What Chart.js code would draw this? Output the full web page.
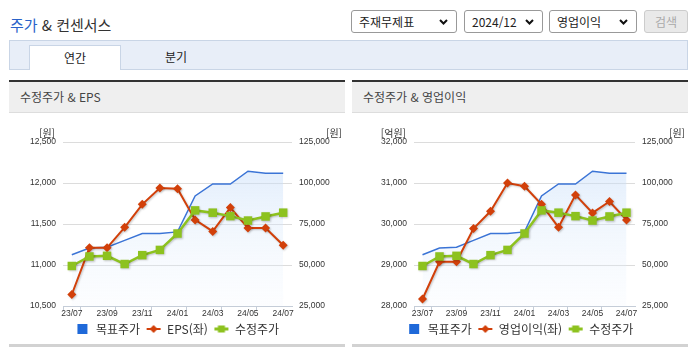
<!DOCTYPE html>
<html lang="ko">
<head>
<meta charset="utf-8">
<script src="https://cdn.jsdelivr.net/npm/chart.js@4.4.1/dist/chart.umd.min.js"></script>
<style>
  body { margin: 0; width: 695px; height: 349px; overflow: hidden; background: #fff;
         font-family: "Noto Sans CJK KR", "Noto Sans", sans-serif; color: #333; position: relative; }
  .abs { position: absolute; }
  .title { left: 10px; top: 15px; font-size: 15px; line-height: 20px; color: #333; }
  .title b { font-weight: normal; color: #2a62c9; }
  .sel { top: 10px; height: 21px; border: 1px solid #999; border-radius: 3px; font-size: 12px;
         line-height: 21px; padding-left: 7px; box-sizing: content-box; background: #fff; color: #222; }
  .sel svg { position: absolute; right: 8px; top: 8px; }
  .btn { left: 644px; top: 10px; width: 42px; height: 21px; border: 1px solid #ccc; border-radius: 3px;
         background: #e9e9e9; color: #aaa; font-size: 12px; line-height: 21px; text-align: center; }
  .tabbar { left: 9px; top: 40px; width: 677px; height: 28px; background: #e8eef8; border: 1px solid #c9d5e6; }
  .tab { top: 45px; left: 29px; width: 90px; height: 24px; background: #fff; border: 1px solid #c9d5e6;
         border-bottom: none; font-size: 12px; line-height: 24px; text-align: center; color: #222; }
  .tab2 { top: 45px; left: 150px; width: 52px; font-size: 12px; line-height: 24px; text-align: center; color: #222; }
  .panel { top: 80px; width: 336px; height: 262px; border-top: 2px solid #333; border-bottom: 3px solid #d2d2d2; }
  .phead { height: 30px; background: #efefef; border-bottom: 1px solid #ddd; font-size: 12px;
           line-height: 30px; padding-left: 11px; color: #444; }
  .box { top: 113px; width: 336px; height: 234px; }
</style>
</head>
<body>
<div class="abs title"><b>주가</b> &amp; 컨센서스</div>

<div class="abs sel" style="left:351px;width:97px">주재무제표<svg width="9" height="6"><path d="M1 1 L4.5 4.5 L8 1" stroke="#111" stroke-width="2" fill="none"/></svg></div>
<div class="abs sel" style="left:464px;width:70px">2024/12<svg width="9" height="6"><path d="M1 1 L4.5 4.5 L8 1" stroke="#111" stroke-width="2" fill="none"/></svg></div>
<div class="abs sel" style="left:549px;width:79px">영업이익<svg width="9" height="6"><path d="M1 1 L4.5 4.5 L8 1" stroke="#111" stroke-width="2" fill="none"/></svg></div>
<div class="abs btn">검색</div>

<div class="abs tabbar"></div>
<div class="abs tab">연간</div>
<div class="abs tab2">분기</div>

<div class="abs panel" style="left:9px"><div class="phead">수정주가 &amp; EPS</div></div>
<div class="abs panel" style="left:352px"><div class="phead">수정주가 &amp; 영업이익</div></div>

<div class="abs box" style="left:9px"><canvas id="chartEps"></canvas></div>
<div class="abs box" style="left:352px"><canvas id="chartOp"></canvas></div>

<script>
// 월별 데이터 (23/07 ~ 24/07)
const months = ['23/07', '23/08', '23/09', '23/10', '23/11', '23/12', '24/01',
                '24/02', '24/03', '24/04', '24/05', '24/06', '24/07'];
const targetPrice = [56250, 60400, 60800, 65000, 69200, 69200, 70200,
                     92100, 99400, 99400, 107200, 106000, 106000];
const adjPrice = [49400, 55200, 55600, 50600, 56000, 59200, 69200,
                  83300, 81900, 79800, 77100, 79600, 81900];
const eps = [10640, 11210, 11210, 11460, 11740, 11940, 11930,
             11550, 11410, 11700, 11450, 11450, 11240];
const opProfit = [28170, 29080, 29080, 29890, 30310, 31000, 30920,
                  30480, 29920, 30710, 30270, 30550, 30100];

const BLUE = '#3b74d6';
const RED = '#d2400a';
const GREEN = '#8dc21f';

Chart.defaults.font.family = '"Liberation Sans", Arial, sans-serif';
Chart.defaults.font.size = 8.5;
Chart.defaults.color = '#333';

// 범례 아이콘
function legendMark(kind, color) {
    const c = document.createElement('canvas');
    c.width = 16; c.height = 12;
    const g = c.getContext('2d');
    g.fillStyle = color;
    g.strokeStyle = color;
    if (kind === 'box') {
        g.fillRect(3, 1, 10, 10);
    } else {
        g.lineWidth = kind === 'square' ? 3 : 2;
        g.beginPath(); g.moveTo(1, 6); g.lineTo(15, 6); g.stroke();
        if (kind === 'diamond') {
            g.beginPath(); g.moveTo(8, 2); g.lineTo(12, 6); g.lineTo(8, 10); g.lineTo(4, 6); g.closePath(); g.fill();
        } else {
            g.fillRect(4.5, 2.5, 7, 7);
        }
    }
    return c;
}
const marks = [legendMark('box', '#1f69d9'), legendMark('diamond', RED), legendMark('square', GREEN)];

// 축 단위 표시 [원], [억원]
const unitTitles = {
    id: 'unitTitles',
    afterDraw(chart, args, opts) {
        const { ctx, chartArea } = chart;
        ctx.save();
        ctx.font = '10px "Noto Sans CJK KR"';
        ctx.fillStyle = '#333';
        ctx.textAlign = 'right';
        ctx.textBaseline = 'middle';
        ctx.fillText(opts.left, chartArea.left - 8, chartArea.top - 9);
        ctx.fillText(opts.right, chart.width - 3, chartArea.top - 9);
        ctx.restore();
    }
};

// 선 그림자
const lineShadow = {
    id: 'lineShadow',
    beforeDatasetDraw(chart, args) {
        if (args.index === 0) return;
        const ctx = chart.ctx;
        ctx.save();
        ctx.shadowColor = 'rgba(0,0,0,0.22)';
        ctx.shadowBlur = 2;
        ctx.shadowOffsetX = 1;
        ctx.shadowOffsetY = 1;
    },
    afterDatasetDraw(chart, args) {
        if (args.index === 0) return;
        chart.ctx.restore();
    }
};

function makeChart(id, leftData, leftLabel, leftMin, leftMax, leftStep, leftUnit, leftWidth) {
    const ctx = document.getElementById(id);
    new Chart(ctx, {
        type: 'line',
        data: {
            labels: months,
            datasets: [{
                label: '목표주가',
                data: targetPrice,
                yAxisID: 'y2',
                borderColor: BLUE,
                borderWidth: 1.5,
                pointRadius: 0,
                fill: 'start',
                backgroundColor: (c) => {
                    const a = c.chart.chartArea;
                    if (!a) return 'rgba(214,230,250,0.5)';
                    const g = c.chart.ctx.createLinearGradient(0, a.top, 0, a.bottom);
                    g.addColorStop(0, 'rgba(190,216,248,0.55)');
                    g.addColorStop(1, 'rgba(235,243,253,0.15)');
                    return g;
                },
                order: 3,
            },
            {
                label: leftLabel,
                data: leftData,
                yAxisID: 'y',
                borderColor: RED,
                backgroundColor: RED,
                borderWidth: 2,
                pointStyle: 'rectRot',
                pointRadius: 4.5,
                pointBorderWidth: 0,
                order: 2,
            },
            {
                label: '수정주가',
                data: adjPrice,
                yAxisID: 'y2',
                borderColor: GREEN,
                backgroundColor: GREEN,
                borderWidth: 2.5,
                pointStyle: 'rect',
                pointRadius: 6,
                pointBorderWidth: 0,
                order: 1,
            }]
        },
        options: {
            responsive: true,
            maintainAspectRatio: false,
            animation: false,
            layout: { padding: { top: 29, bottom: 2 } },
            scales: {
                x: {
                    offset: true,
                    grid: {
                        offset: true,
                        drawOnChartArea: false,
                        tickLength: 5,
                        color: (c) => (c.index === 0 || c.index % 2 === 1) ? '#c5cdd8' : 'rgba(0,0,0,0)',
                    },
                    border: { color: '#c5cdd8' },
                    ticks: {
                        autoSkip: false,
                        maxRotation: 0,
                        padding: -2,
                        callback: (v, i) => i % 2 === 0 ? months[i] : '',
                    },
                    afterFit: (s) => { s.height = 11; },
                },
                y: {
                    position: 'left',
                    min: leftMin,
                    max: leftMax,
                    ticks: { stepSize: leftStep, padding: 7 },
                    grid: { color: '#dcdcdc', drawTicks: false },
                    border: { display: false },
                    afterFit: (s) => { s.width = leftWidth; },
                },
                y2: {
                    position: 'right',
                    min: 25000,
                    max: 125000,
                    ticks: { stepSize: 25000, padding: 7 },
                    grid: { drawOnChartArea: false, drawTicks: false },
                    border: { display: false },
                    afterFit: (s) => { s.width = 53; },
                },
            },
            plugins: {
                tooltip: { enabled: false },
                unitTitles: { left: leftUnit, right: '[원]' },
                legend: {
                    position: 'bottom',
                    labels: {
                        font: { family: '"Noto Sans CJK KR"', size: 12 },
                        color: '#333',
                        usePointStyle: true,
                        pointStyleWidth: 15,
                        padding: 6,
                        generateLabels: (chart) => chart.data.datasets.map((ds, i) => ({
                            text: ds.label,
                            pointStyle: marks[i],
                            fillStyle: 'rgba(0,0,0,0)',
                            strokeStyle: 'rgba(0,0,0,0)',
                            lineWidth: 0,
                            hidden: false,
                            datasetIndex: i,
                            fontColor: '#333',
                        })),
                    },
                },
            },
        },
        plugins: [unitTitles, lineShadow],
    });
}

makeChart('chartEps', eps, 'EPS(좌)', 10500, 12500, 500, '[원]', 54);
makeChart('chartOp', opProfit, '영업이익(좌)', 28000, 32000, 1000, '[억원]', 62);
</script>
</body>
</html>
